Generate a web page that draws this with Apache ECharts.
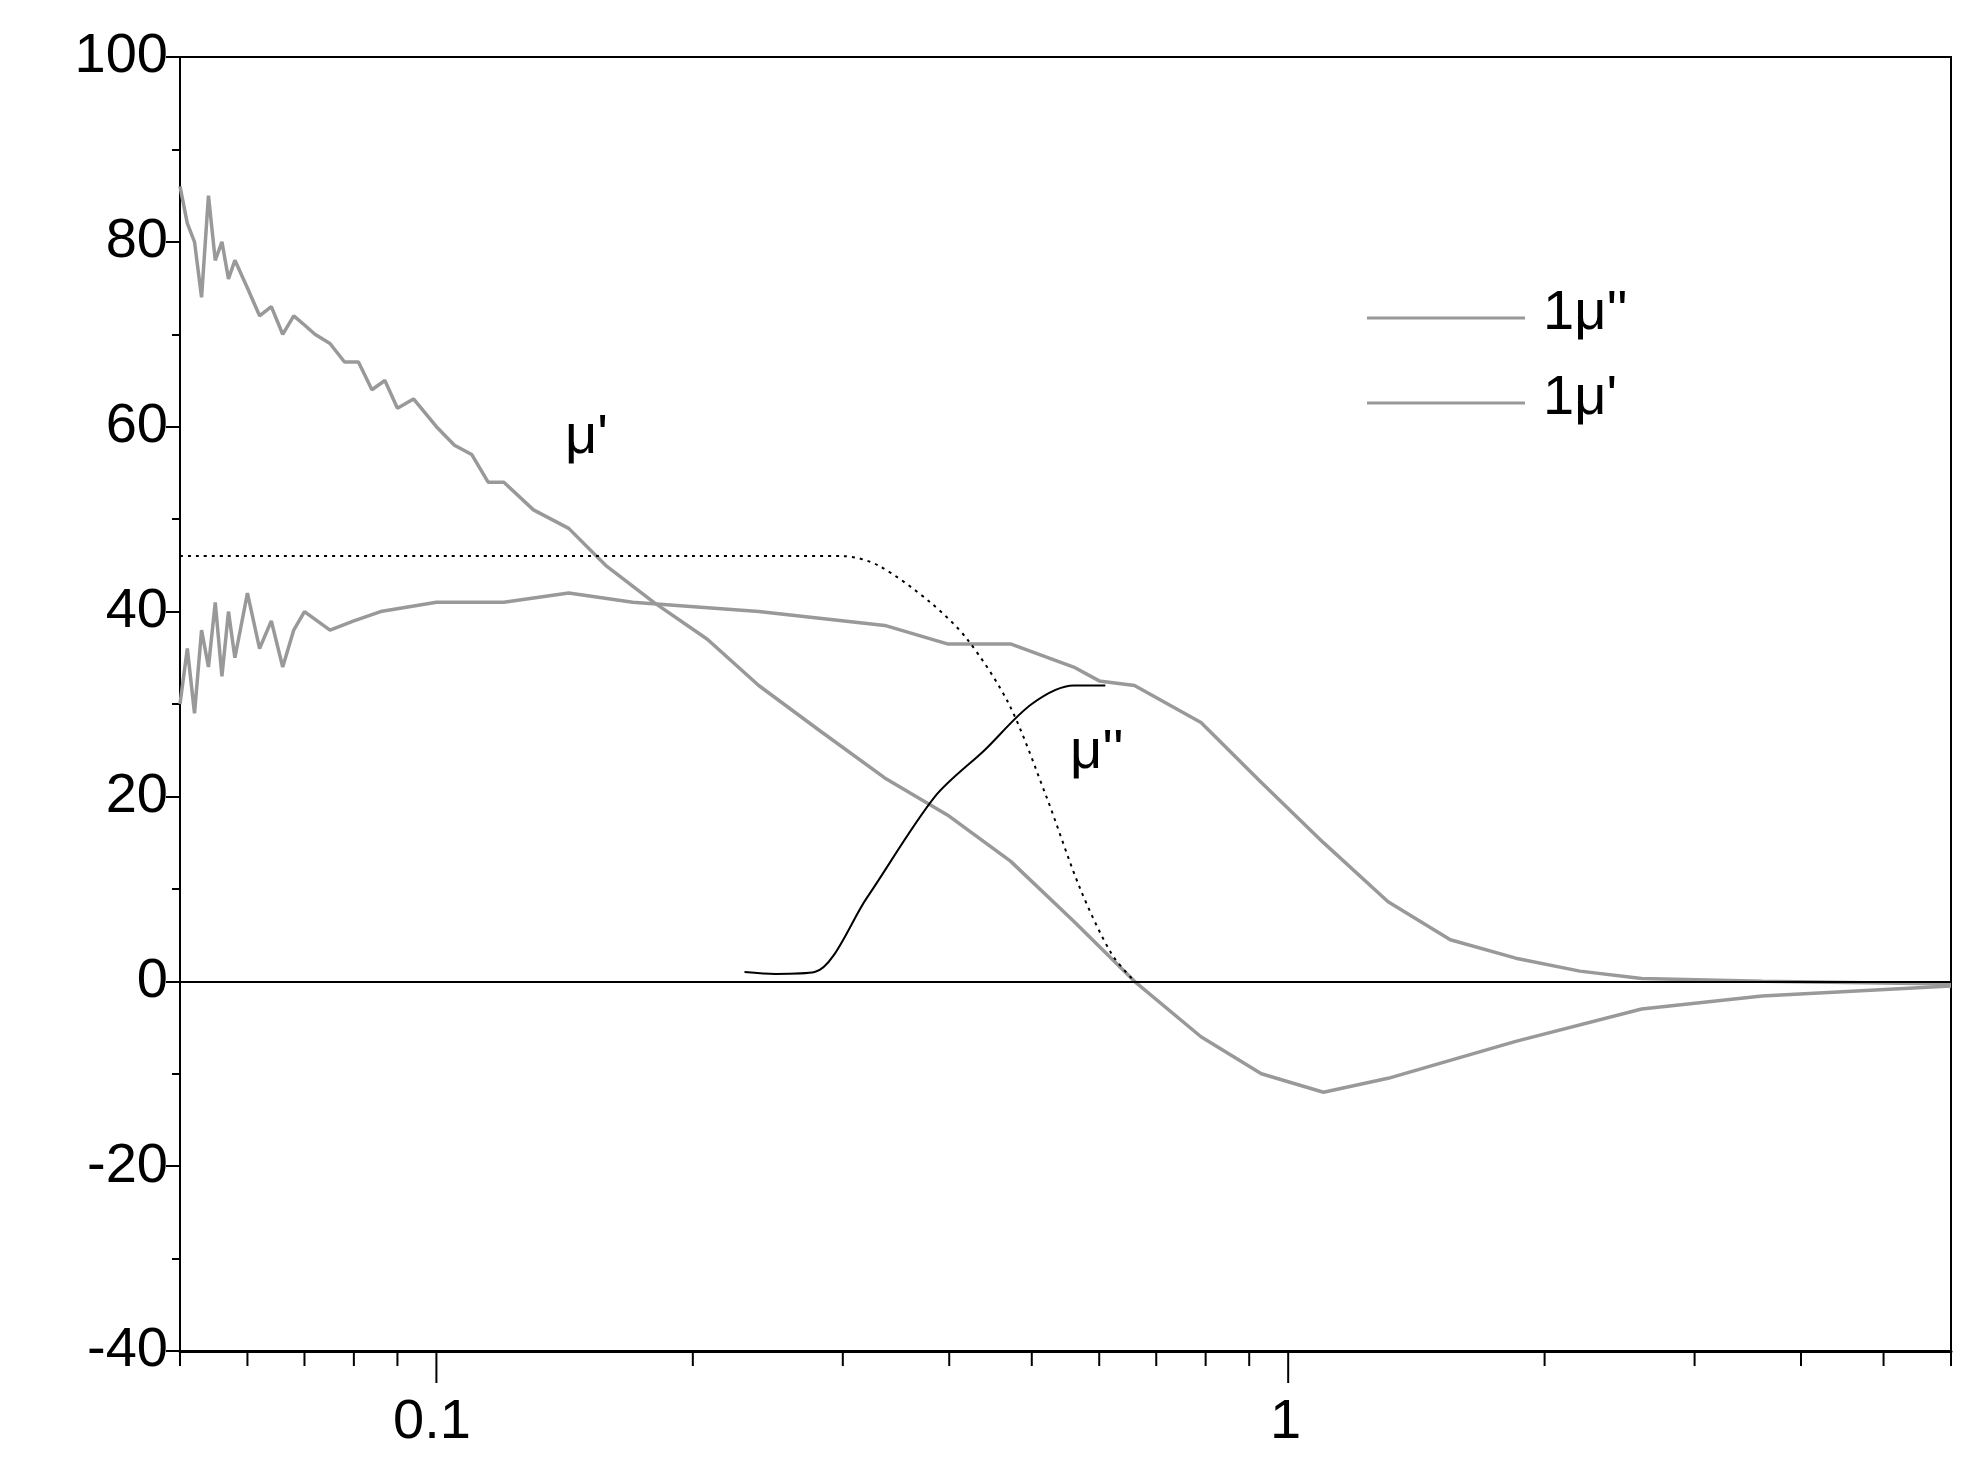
<!DOCTYPE html>
<html>
<head>
<meta charset="utf-8">
<script src="https://cdn.jsdelivr.net/npm/echarts@6/dist/echarts.min.js"></script>
<style>html,body{margin:0;background:#fff}#main{width:1966px;height:1480px}</style>
</head>
<body>
<div id="main"></div>
<script>
// frequency values (log x axis)
const muPrimeF = [0.05,0.051,0.052,0.053,0.054,0.055,0.056,0.057,0.058,0.06,0.062,0.064,0.066,0.068,0.07,0.072,0.075,0.078,0.081,0.084,0.087,0.09,0.094,0.1,0.105,0.11,0.115,0.12,0.13,0.143,0.158,0.18,0.208,0.239,0.283,0.336,0.398,0.472,0.56,0.66,0.79,0.93,1.1,1.31,1.85,2.6,3.6,6];
const muPrimeV = [86,82,80,74,85,78,80,76,78,75,72,73,70,72,71,70,69,67,67,64,65,62,63,60,58,57,54,54,51,49,45,41,37,32,27,22,18,13,6.5,0,-6,-10,-12,-10.5,-6.5,-3,-1.6,-0.5];
const muDblF = [0.05,0.051,0.052,0.053,0.054,0.055,0.056,0.057,0.058,0.06,0.062,0.064,0.066,0.068,0.07,0.075,0.08,0.086,0.1,0.12,0.143,0.17,0.239,0.336,0.398,0.472,0.56,0.6,0.66,0.79,0.93,1.1,1.31,1.55,1.85,2.2,2.6,3.6,6];
const muDblV = [30,36,29,38,34,41,33,40,35,42,36,39,34,38,40,38,39,40,41,41,42,41,40,38.5,36.5,36.5,34,32.5,32,28,21.5,15,8.6,4.5,2.5,1.1,0.3,0,-0.3];
const fitDotF = [0.05,0.1,0.2,0.3,0.33,0.38,0.42,0.47,0.52,0.57,0.62,0.66];
const fitDotV = [46,46,46,46,45,41,37,30,20,10,3,0];
const fitSolidF = [0.23,0.25,0.278,0.32,0.385,0.44,0.5,0.56,0.61];
const fitSolidV = [1,0.8,1,9,20,25,30,32,32];
const xMinorTicks = [0.05,0.06,0.07,0.08,0.09,0.2,0.3,0.4,0.5,0.6,0.7,0.8,0.9,2,3,4,5,6];
const xMajorTicks = [0.1,1];

const lg = Math.log10;
const pts = (f, v) => f.map((x, i) => [lg(x), v[i]]);
const font = 'Liberation Sans, Arial, sans-serif';

function tickSeries(ticks, len) {
  return {
    type: 'custom', silent: true, z: 5,
    data: ticks.map(t => [lg(t), -40]),
    renderItem: (params, api) => {
      const p = api.coord([api.value(0), api.value(1)]);
      return {type: 'line', shape: {x1: p[0], y1: p[1], x2: p[0], y2: p[1] + len},
        style: {stroke: '#000', lineWidth: 2}};
    }
  };
}

const chart = echarts.init(document.getElementById('main'));
chart.setOption({
  animation: false,
  grid: {left: 180, right: 15, top: 57, bottom: 129, show: true, borderColor: '#000', borderWidth: 2},
  xAxis: {
    type: 'value', min: lg(0.05), max: lg(6),
    axisLine: {onZero: false, lineStyle: {color: '#000', width: 3}},
    axisTick: {show: false}, splitLine: {show: false},
    axisLabel: {show: false}
  },
  yAxis: {
    type: 'value', min: -40, max: 100, interval: 20,
    axisLine: {show: true, onZero: false, lineStyle: {color: '#000', width: 2}},
    axisTick: {show: true, length: 14, lineStyle: {color: '#000', width: 2}},
    minorTick: {show: true, splitNumber: 2, length: 8, lineStyle: {color: '#000', width: 2}},
    splitLine: {show: false},
    axisLabel: {color: '#000', fontSize: 56, fontFamily: font, margin: 12}
  },
  graphic: [
    {type: 'text', left: 393, top: 1395, style: {text: '0.1', fontSize: 56, fontFamily: font, fill: '#000'}},
    {type: 'text', left: 1270, top: 1395, style: {text: '1', fontSize: 56, fontFamily: font, fill: '#000'}},
    {type: 'line', shape: {x1: 1367, y1: 318, x2: 1525, y2: 318}, style: {stroke: '#999', lineWidth: 3}},
    {type: 'line', shape: {x1: 1367, y1: 403, x2: 1525, y2: 403}, style: {stroke: '#999', lineWidth: 3}},
    {type: 'text', left: 1543, top: 286, style: {text: "1\u03bc''", fontSize: 56, fontFamily: font, fill: '#000'}},
    {type: 'text', left: 1543, top: 371, style: {text: "1\u03bc'", fontSize: 56, fontFamily: font, fill: '#000'}},
    {type: 'text', left: 565, top: 410, style: {text: "\u03bc'", fontSize: 56, fontFamily: font, fill: '#000'}},
    {type: 'text', left: 1070, top: 725, style: {text: "\u03bc''", fontSize: 56, fontFamily: font, fill: '#000'}}
  ],
  series: [
    {type: 'line', data: pts(muPrimeF, muPrimeV), symbol: 'none', lineStyle: {color: '#999', width: 3.5},
      markLine: {silent: true, symbol: 'none', label: {show: false}, lineStyle: {color: '#000', width: 2, type: 'solid'}, data: [{yAxis: 0}]}},
    {type: 'line', data: pts(muDblF, muDblV), symbol: 'none', lineStyle: {color: '#999', width: 3.5}},
    {type: 'line', data: pts(fitDotF, fitDotV), symbol: 'none', smooth: 0.3, lineStyle: {color: '#000', width: 2, type: [3, 5]}},
    {type: 'line', data: pts(fitSolidF, fitSolidV), symbol: 'none', smooth: 0.3, lineStyle: {color: '#000', width: 2}},
    tickSeries(xMinorTicks, 15),
    tickSeries(xMajorTicks, 32)
  ]
});
</script>
</body>
</html>
